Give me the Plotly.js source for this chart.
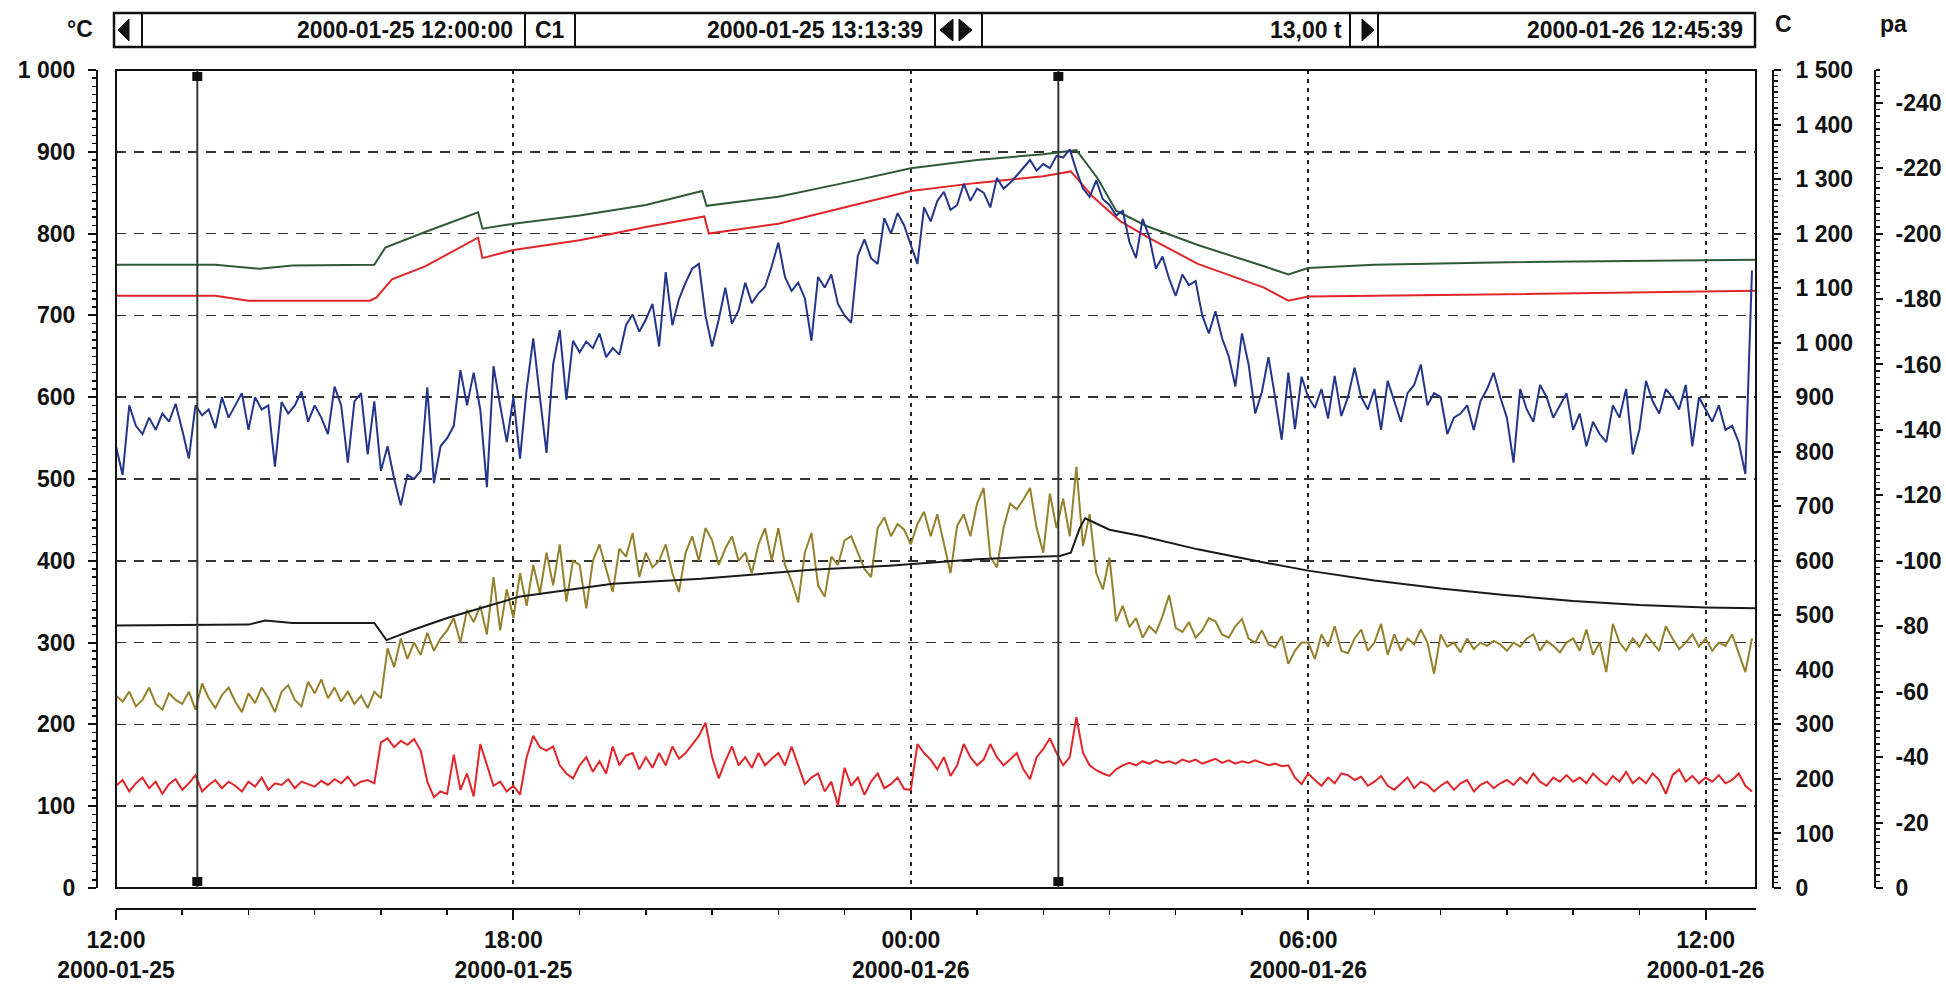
<!DOCTYPE html>
<html>
<head>
<meta charset="utf-8">
<script src="https://cdn.plot.ly/plotly-3.0.1.min.js"></script>
<style>html,body{margin:0;padding:0;background:#fff;}#chart{width:1946px;height:988px;}</style>
</head>
<body>
<div id="chart"></div>
<script>
// ---------------- DATA ----------------
const rangeStart = '2000-01-25 12:00:00';
const rangeEnd = '2000-01-26 12:45:39';
const cursorTimes = ['2000-01-25 13:13:39', '2000-01-26 02:13:39'];
const barTexts = ['2000-01-25 12:00:00', 'C1', '2000-01-25 13:13:39', '13,00 t', '2000-01-26 12:45:39'];
const unitLabels = ['°C', 'C', 'pa'];

const xTickVals = ['2000-01-25 12:00', '2000-01-25 18:00', '2000-01-26 00:00', '2000-01-26 06:00', '2000-01-26 12:00'];
const xTickText = ['12:00<br>2000-01-25', '18:00<br>2000-01-25', '00:00<br>2000-01-26', '06:00<br>2000-01-26', '12:00<br>2000-01-26'];
const paTickVals = [0, -20, -40, -60, -80, -100, -120, -140, -160, -180, -200, -220, -240];
const paTickText = ['0', '-20', '-40', '-60', '-80', '-100', '-120', '-140', '-160', '-180', '-200', '-220', '-240'];

// smooth series (explicit sample times)
const greenTimes = ['2000-01-25 12:00','2000-01-25 13:30','2000-01-25 14:10','2000-01-25 14:40','2000-01-25 15:54','2000-01-25 16:04','2000-01-25 16:40','2000-01-25 17:28','2000-01-25 17:32','2000-01-25 18:00','2000-01-25 19:00','2000-01-25 20:00','2000-01-25 20:51','2000-01-25 20:55','2000-01-25 22:00','2000-01-25 23:00','2000-01-26 00:00','2000-01-26 01:00','2000-01-26 02:00','2000-01-26 02:30','2000-01-26 02:49','2000-01-26 03:06','2000-01-26 03:34','2000-01-26 04:20','2000-01-26 05:20','2000-01-26 05:42','2000-01-26 06:00','2000-01-26 07:00','2000-01-26 09:00','2000-01-26 12:00','2000-01-26 12:45:39'];
const greenVals = [762,762,757,761,762,783,802,826,806,812,822,835,852,834,845,862,880,890,897,902,868,828,809,786,760,750,758,762,765,767,768];

const redTopTimes = ['2000-01-25 12:00','2000-01-25 13:30','2000-01-25 14:00','2000-01-25 15:50','2000-01-25 15:56','2000-01-25 16:10','2000-01-25 16:40','2000-01-25 17:28','2000-01-25 17:32','2000-01-25 18:00','2000-01-25 19:00','2000-01-25 20:00','2000-01-25 20:53','2000-01-25 20:57','2000-01-25 22:00','2000-01-25 23:00','2000-01-26 00:00','2000-01-26 01:00','2000-01-26 02:00','2000-01-26 02:25','2000-01-26 02:45','2000-01-26 03:10','2000-01-26 03:34','2000-01-26 04:20','2000-01-26 05:20','2000-01-26 05:42','2000-01-26 06:00','2000-01-26 09:00','2000-01-26 12:45:39'];
const redTopVals = [724,724,718,718,722,744,760,795,770,780,792,808,821,800,812,832,852,862,870,876,845,815,796,763,734,718,723,726,730];

const blackTimes = ['2000-01-25 12:00','2000-01-25 14:00','2000-01-25 14:15','2000-01-25 14:40','2000-01-25 15:54','2000-01-25 16:05','2000-01-25 16:30','2000-01-25 17:00','2000-01-25 17:30','2000-01-25 18:05','2000-01-25 19:30','2000-01-25 20:50','2000-01-25 22:30','2000-01-25 23:40','2000-01-26 01:00','2000-01-26 02:15','2000-01-26 02:25','2000-01-26 02:33','2000-01-26 02:38','2000-01-26 03:00','2000-01-26 03:30','2000-01-26 04:20','2000-01-26 05:20','2000-01-26 06:00','2000-01-26 07:00','2000-01-26 08:00','2000-01-26 09:00','2000-01-26 10:00','2000-01-26 11:00','2000-01-26 12:00','2000-01-26 12:45:39'];
const blackVals = [321,322,327,324,324,303,316,330,342,356,372,378,389,394,402,406,410,440,452,438,430,414,398,388,376,366,358,351,346,343,342];

// noisy series, one sample every 6 minutes from 2000-01-25 12:00
const blueVals = [
 540,505,590,565,555,575,560,580,570,592,
 560,525,590,578,585,562,600,575,590,605,
 560,600,585,590,515,594,580,590,607,570,
 590,575,555,613,590,520,595,605,530,595,
 510,540,500,468,505,500,510,612,495,540,
 550,565,633,590,630,585,490,638,590,545,
 600,525,610,672,600,532,640,682,597,669,
 655,668,660,678,649,660,652,688,701,680,
 695,714,662,753,688,720,740,757,763,700,
 662,695,734,690,706,740,715,727,735,760,
 789,747,730,740,721,669,747,734,750,714,
 700,691,773,793,770,763,819,800,825,810,
 786,763,832,815,840,851,829,835,861,840,
 855,850,832,868,855,862,871,880,890,877,
 885,880,895,893,903,877,855,845,865,842,
 835,822,828,790,770,818,796,757,772,745,
 724,750,737,742,700,678,705,672,650,613,
 678,640,580,606,649,600,548,630,561,625,
 600,587,610,574,626,577,600,636,600,585,
 610,560,620,595,570,605,615,640,590,605,
 600,555,575,580,590,560,595,610,630,600,
 575,520,610,585,570,615,600,575,590,605,
 560,580,540,570,555,545,590,575,610,530,
 560,620,595,580,610,600,585,615,540,600,
 585,570,590,560,565,545,506,755];

const brownVals = [
 235,228,240,222,230,245,225,218,238,230,
 225,240,218,250,232,220,236,245,228,215,
 238,226,245,232,215,240,248,230,222,252,
 238,255,232,245,228,240,225,235,220,240,
 232,293,270,305,280,300,285,312,290,305,
 315,330,300,340,325,345,310,380,315,365,
 330,385,345,395,360,410,370,420,350,400,
 395,342,400,420,390,362,415,405,434,380,
 410,392,400,420,385,362,410,430,400,440,
 425,395,415,430,400,410,385,420,440,400,
 440,395,375,349,410,434,370,356,405,395,
 425,430,410,390,380,440,453,430,445,438,
 420,445,460,430,457,420,385,443,457,430,
 470,489,405,392,440,470,463,475,489,440,
 410,482,440,476,430,515,418,457,385,365,
 404,326,345,319,330,306,320,312,332,358,
 318,313,325,306,315,330,326,310,306,320,
 329,305,300,315,298,294,308,274,290,300,
 300,280,310,295,320,290,287,305,316,290,
 300,323,285,310,290,305,298,316,300,262,
 310,295,300,288,305,292,300,296,302,298,
 290,300,295,305,310,290,302,296,288,300,
 305,290,316,285,300,264,323,300,290,305,
 295,310,300,290,320,305,292,300,310,295,
 305,290,300,296,310,288,264,305];

const redLowVals = [
 125,132,118,128,135,122,130,115,127,133,
 120,128,138,118,126,132,122,130,125,118,
 130,124,135,120,128,126,133,122,130,127,
 124,131,126,133,128,136,125,130,132,128,
 178,183,172,180,175,182,168,130,111,118,
 115,163,120,140,112,176,150,125,130,118,
 125,114,160,186,172,168,173,150,140,134,
 150,160,142,155,140,173,150,162,165,145,
 160,147,165,150,173,158,165,175,186,202,
 160,134,155,173,150,160,147,165,150,158,
 165,150,173,150,127,135,140,118,130,101,
 147,125,135,114,130,140,122,127,135,121,
 120,176,165,157,145,160,137,150,176,160,
 150,157,176,160,150,157,165,145,133,160,
 170,183,165,150,160,209,165,150,144,140,
 137,145,150,153,150,155,152,156,153,155,
 152,157,154,157,152,155,158,153,156,152,
 155,153,156,153,150,152,149,150,135,127,
 140,132,125,135,128,140,138,132,136,125,
 130,137,125,120,128,135,122,130,126,118,
 125,130,120,128,132,118,126,130,122,128,
 132,126,135,128,140,130,125,135,130,138,
 130,135,128,140,132,126,137,130,142,128,
 135,128,140,132,115,138,145,130,137,128,
 135,130,138,128,132,140,125,118];

// ---------------- LAYOUT HELPERS ----------------
const W = 1946, H = 988;
const M = {l: 60, r: 20, t: 10, b: 10};
const PW = W - M.l - M.r, PH = H - M.t - M.b;
const px = x => (x - M.l) / PW;
const py = y => (H - M.b - y) / PH;

const sampleStep = 6 * 60 * 1000;
const t0 = Date.UTC(2000, 0, 25, 12, 0, 0);
const noisyTimes = n => Array.from({length: n}, (_, i) => t0 + i * sampleStep);

const FONT = {family: 'Liberation Sans, Arial, sans-serif', size: 23, color: '#111', weight: 'bold'};
const INK = '#111';

const line = (x, y, color, w) => ({type: 'scatter', mode: 'lines', x, y, line: {color, width: w || 2}, hoverinfo: 'skip'});

const traces = [
  line(greenTimes, greenVals, '#2f5a3a'),
  line(redTopTimes, redTopVals, '#e0262a'),
  line(noisyTimes(blueVals.length), blueVals, '#24358a'),
  line(noisyTimes(brownVals.length), brownVals, '#94812e'),
  line(blackTimes, blackVals, '#1a1a1a'),
  line(noisyTimes(redLowVals.length), redLowVals, '#e0262a'),
  // empty traces so the two right-hand scales are drawn
  {type: 'scatter', mode: 'lines', x: [], y: [], yaxis: 'y2', hoverinfo: 'skip'},
  {type: 'scatter', mode: 'lines', x: [], y: [], yaxis: 'y3', hoverinfo: 'skip'}
];

const plotL = 116, plotR = 1756, plotT = 70, plotB = 888;
const shapes = [];
const annotations = [];

// plot frame
shapes.push({type: 'rect', xref: 'paper', yref: 'paper', x0: px(plotL), x1: px(plotR), y0: py(plotB), y1: py(plotT), line: {color: INK, width: 2}});

// cursors
cursorTimes.forEach(t => {
  shapes.push({type: 'line', xref: 'x', yref: 'paper', x0: t, x1: t, y0: py(plotB), y1: py(plotT), line: {color: '#2e3a30', width: 2}});
  shapes.push({type: 'rect', xref: 'x', xsizemode: 'pixel', xanchor: t, x0: -5, x1: 5, yref: 'paper', ysizemode: 'pixel', yanchor: py(plotT), y0: -11, y1: -2, fillcolor: INK, line: {width: 0}});
  shapes.push({type: 'rect', xref: 'x', xsizemode: 'pixel', xanchor: t, x0: -5, x1: 5, yref: 'paper', ysizemode: 'pixel', yanchor: py(plotB), y0: 2, y1: 11, fillcolor: INK, line: {width: 0}});
});

// top status bar
const barT = 13, barB = 47, barMid = 30;
shapes.push({type: 'rect', xref: 'paper', yref: 'paper', x0: px(114), x1: px(1755), y0: py(barB), y1: py(barT), line: {color: INK, width: 2.5}, fillcolor: 'rgba(0,0,0,0)'});
[142, 525, 575, 935, 982, 1350, 1378].forEach(x => {
  shapes.push({type: 'line', xref: 'paper', yref: 'paper', x0: px(x), x1: px(x), y0: py(barB), y1: py(barT), line: {color: INK, width: 2}});
});
const tri = (tip, base, top, bot) => {
  const mid = (top + bot) / 2;
  return {type: 'path', xref: 'paper', yref: 'paper',
    path: `M ${px(tip)} ${py(mid)} L ${px(base)} ${py(top)} L ${px(base)} ${py(bot)} Z`,
    fillcolor: INK, line: {color: INK, width: 1}};
};
shapes.push(tri(118, 129, 19, 41));
shapes.push(tri(940, 953, 19, 41));
shapes.push(tri(972, 959, 19, 41));
shapes.push(tri(1374, 1362, 19, 41));

const barAnn = (text, x, anchor) => ({xref: 'paper', yref: 'paper', x: px(x), y: py(barMid), xanchor: anchor, yanchor: 'middle', text, showarrow: false, font: Object.assign({}, FONT, {size: 23})});
annotations.push(barAnn(barTexts[0], 515, 'right'));
annotations.push(barAnn(barTexts[1], 533, 'left'));
annotations.push(barAnn(barTexts[2], 925, 'right'));
annotations.push(barAnn(barTexts[3], 1344, 'right'));
annotations.push(barAnn(barTexts[4], 1745, 'right'));

// unit labels
const unitAnn = (text, x, y) => ({xref: 'paper', yref: 'paper', x: px(x), y: py(y), xanchor: 'center', yanchor: 'middle', text, showarrow: false, font: FONT});
annotations.push(unitAnn(unitLabels[0], 80, 29));
annotations.push(unitAnn(unitLabels[1], 1783, 24));
annotations.push(unitAnn(unitLabels[2], 1893, 24));

const commonY = {
  showline: true, linecolor: INK, linewidth: 2, ticks: 'outside', tickwidth: 2, tickcolor: INK,
  tickfont: FONT, zeroline: false, fixedrange: true, separatethousands: true, autorange: false
};

const layout = {
  width: W, height: H, margin: M, paper_bgcolor: '#fff', plot_bgcolor: '#fff',
  showlegend: false, separators: ', ', hovermode: false,
  xaxis: {
    type: 'date', domain: [px(plotL), px(plotR)], range: [rangeStart, rangeEnd],
    anchor: 'free', position: py(909), showline: true, linecolor: INK, linewidth: 2,
    ticks: 'outside', ticklen: 10, tickwidth: 2, tickcolor: INK,
    tickmode: 'array', tickvals: xTickVals, ticktext: xTickText, tickfont: FONT,
    showgrid: true, gridcolor: '#222', gridwidth: 2, griddash: '4px,5px',
    minor: {tickmode: 'linear', tick0: rangeStart, dtick: 3600000, ticks: 'outside', ticklen: 5, tickwidth: 1.5, tickcolor: INK, showgrid: false},
    zeroline: false, fixedrange: true
  },
  yaxis: Object.assign({}, commonY, {
    domain: [py(plotB), py(plotT)], range: [0, 1000], anchor: 'free', position: px(97), side: 'left',
    ticklen: 8, dtick: 100, tick0: 0, ticklabelstandoff: 8,
    showgrid: true, gridcolor: '#333', gridwidth: 1.5, griddash: '10px,8px',
    minor: {dtick: 10, ticks: 'outside', ticklen: 4, tickwidth: 1.5, tickcolor: INK, showgrid: false}
  }),
  yaxis2: Object.assign({}, commonY, {
    overlaying: 'y', range: [0, 1500], anchor: 'free', position: px(1773), side: 'right',
    ticklen: 7, dtick: 100, tick0: 0, ticklabelstandoff: 10, showgrid: false,
    minor: {dtick: 10, ticks: 'outside', ticklen: 4, tickwidth: 1.5, tickcolor: INK, showgrid: false}
  }),
  yaxis3: Object.assign({}, commonY, {
    overlaying: 'y', range: [0, -250], anchor: 'free', position: px(1875), side: 'right',
    ticklen: 7, tickmode: 'array', tickvals: paTickVals, ticktext: paTickText, ticklabelstandoff: 8, showgrid: false,
    minor: {tickmode: 'linear', tick0: 0, dtick: 2, ticks: 'outside', ticklen: 4, tickwidth: 1.5, tickcolor: INK, showgrid: false}
  }),
  shapes, annotations
};

Plotly.newPlot('chart', traces, layout, {staticPlot: true, displayModeBar: false});
</script>
</body>
</html>
